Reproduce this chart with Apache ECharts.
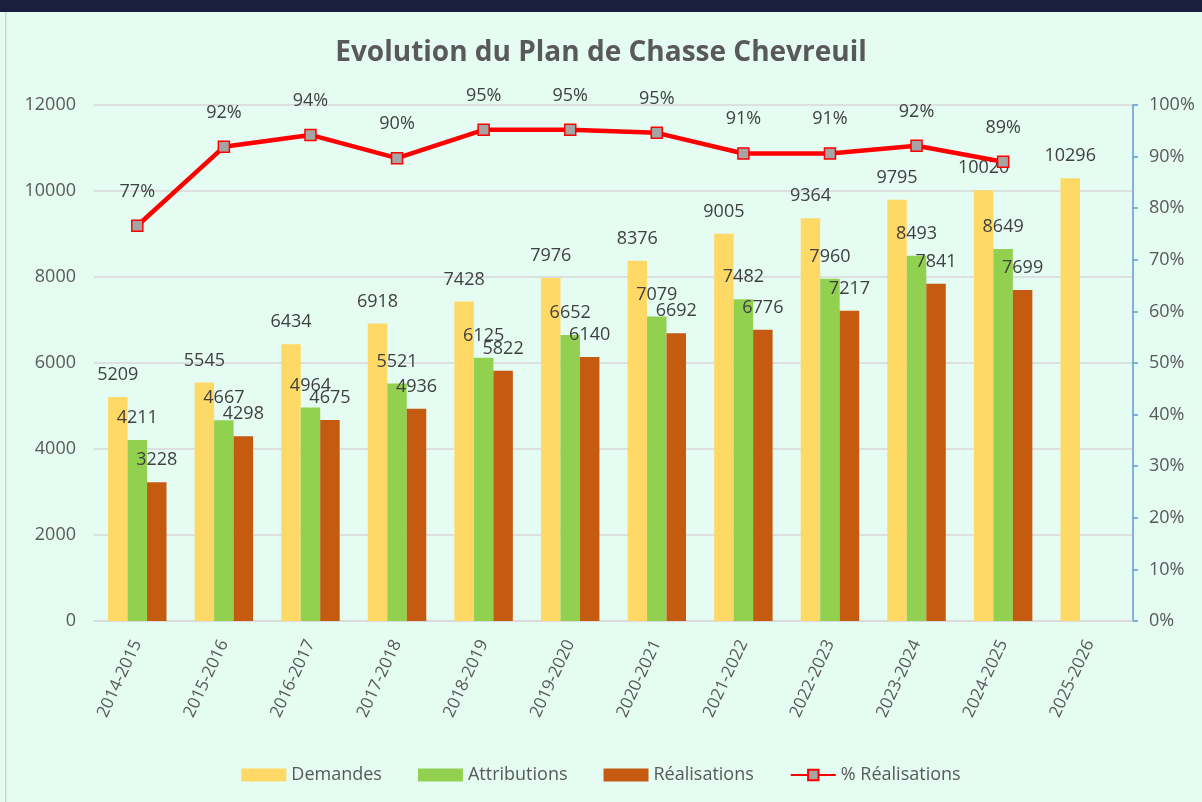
<!DOCTYPE html>
<html>
<head>
<meta charset="utf-8">
<script src="https://cdn.jsdelivr.net/npm/echarts@6/dist/echarts.min.js"></script>
<style>
  html, body { margin: 0; padding: 0; background: #e5fcf2; }
  #chart { width: 1202px; height: 802px; }
</style>
</head>
<body>
<div id="chart"></div>
<script>
// Données
const saisons = ['2014-2015', '2015-2016', '2016-2017', '2017-2018', '2018-2019', '2019-2020',
                 '2020-2021', '2021-2022', '2022-2023', '2023-2024', '2024-2025', '2025-2026'];
const demandes = [5209, 5545, 6434, 6918, 7428, 7976, 8376, 9005, 9364, 9795, 10020, 10296];
const attributions = [4211, 4667, 4964, 5521, 6125, 6652, 7079, 7482, 7960, 8493, 8649, null];
const realisations = [3228, 4298, 4675, 4936, 5822, 6140, 6692, 6776, 7217, 7841, 7699, null];
const pctRealisations = [0.766, 0.919, 0.942, 0.897, 0.952, 0.952, 0.946, 0.906, 0.906, 0.921, 0.89, null];

const fontFamily = '"Open Sans", Lato, sans-serif';
const textColor = '#595959';
const labelSize = 18;

const chart = echarts.init(document.getElementById('chart'));

// Étiquette commune pour les barres
function barLabel() {
    return {
        show: true,
        position: 'top',
        distance: 13,
        color: '#404040',
        fontSize: labelSize,
        fontFamily: fontFamily
    };
}

const option = {
    backgroundColor: '#e5fcf2',
    animation: false,
    textStyle: { fontFamily: fontFamily },
    graphic: [
        // bandeau sombre en haut
        { type: 'rect', left: 0, top: 0, shape: { width: 1202, height: 12 }, style: { fill: '#1a1f3f' } },
        // bordure gauche
        { type: 'rect', left: 5, top: 12, shape: { width: 1.5, height: 790 }, style: { fill: '#cfd8d4' } }
    ],
    title: {
        text: 'Evolution du Plan de Chasse Chevreuil',
        left: 'center',
        top: 34,
        textStyle: {
            color: textColor,
            fontSize: 28,
            fontWeight: 'bold',
            fontFamily: fontFamily
        }
    },
    legend: {
        bottom: 13,
        left: 'center',
        itemWidth: 45,
        itemHeight: 13,
        itemGap: 36,
        textStyle: { color: textColor, fontSize: labelSize, fontFamily: fontFamily },
        data: [
            { name: 'Demandes', icon: 'rect' },
            { name: 'Attributions', icon: 'rect' },
            { name: 'Réalisations', icon: 'rect' },
            { name: '% Réalisations' }
        ]
    },
    grid: {
        left: 94,
        right: 69,
        top: 105,
        bottom: 181,
        containLabel: false
    },
    xAxis: {
        type: 'category',
        data: saisons,
        axisLine: { show: true, lineStyle: { color: '#d9d9d9', width: 1.5 } },
        axisTick: { show: false },
        axisLabel: {
            rotate: 65,
            margin: 20,
            color: textColor,
            fontSize: 17,
            fontFamily: fontFamily
        }
    },
    yAxis: [
        {
            type: 'value',
            min: 0,
            max: 12000,
            interval: 2000,
            axisLine: { show: false },
            axisTick: { show: false },
            axisLabel: {
                color: textColor,
                fontSize: labelSize,
                margin: 18,
                fontFamily: fontFamily,
                formatter: function (v) { return String(v); }
            },
            splitLine: { lineStyle: { color: '#d9d9d9', width: 1.5 } }
        },
        {
            type: 'value',
            min: 0,
            max: 1,
            interval: 0.1,
            position: 'right',
            axisLine: { show: true, lineStyle: { color: '#5b9bd5', width: 1.5 } },
            axisTick: { show: true, inside: false, length: 5, lineStyle: { color: '#5b9bd5', width: 1.5 } },
            axisLabel: {
                color: textColor,
                fontSize: labelSize,
                margin: 16,
                fontFamily: fontFamily,
                formatter: function (v) { return Math.round(v * 100) + '%'; }
            },
            splitLine: { show: false }
        }
    ],
    series: [
        {
            name: 'Demandes',
            type: 'bar',
            data: demandes,
            barWidth: '22.5%',
            barGap: '0%',
            itemStyle: { color: '#ffd966' },
            label: barLabel()
        },
        {
            name: 'Attributions',
            type: 'bar',
            data: attributions,
            barWidth: '22.5%',
            barGap: '0%',
            itemStyle: { color: '#92d050' },
            label: barLabel()
        },
        {
            name: 'Réalisations',
            type: 'bar',
            data: realisations,
            barWidth: '22.5%',
            barGap: '0%',
            itemStyle: { color: '#c55a11' },
            label: barLabel()
        },
        {
            name: '% Réalisations',
            type: 'line',
            yAxisIndex: 1,
            data: pctRealisations,
            symbol: 'rect',
            symbolSize: 11,
            lineStyle: { color: '#ff0000', width: 4.5 },
            itemStyle: { color: '#a5a5a5', borderColor: '#ff0000', borderWidth: 1.5 },
            label: {
                show: true,
                position: 'top',
                distance: 19,
                color: '#404040',
                fontSize: labelSize,
                fontFamily: fontFamily,
                formatter: function (p) { return Math.round(p.value * 100) + '%'; }
            },
            z: 5
        }
    ]
};

chart.setOption(option);

window.addEventListener('resize', function () {
    chart.resize();
});
</script>
</body>
</html>
